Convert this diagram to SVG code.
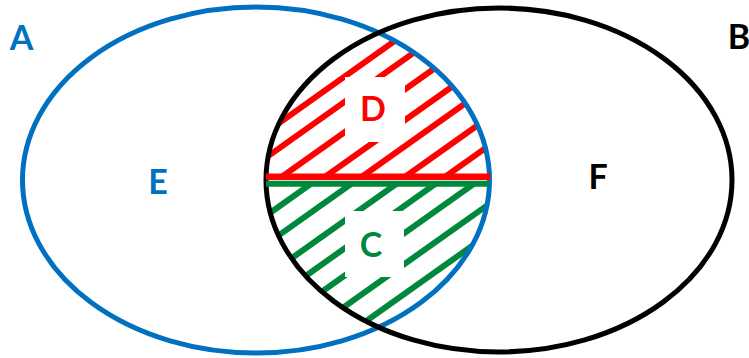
<svg xmlns="http://www.w3.org/2000/svg" width="749" height="358" viewBox="0 0 749 358">
  <style>
    .lbl { font-family: Lato, "Liberation Sans", Arial, sans-serif; font-weight: 700; font-size: 34px; text-anchor: middle; }
    .blue { fill: #0070C0; }
    .black { fill: #000000; }
    .red { fill: #FF0000; }
    .green { fill: #00883C; }
    .hr { stroke: #FF0000; stroke-width: 6; fill: none; }
    .hg { stroke: #00883C; stroke-width: 6; fill: none; }
    .gap { fill: #FFFFFF; stroke: none; }
  </style>
  <defs>
    <clipPath id="clipA"><ellipse cx="256" cy="180" rx="233.5" ry="173"/></clipPath>
    <clipPath id="clipB"><ellipse cx="499" cy="180" rx="233" ry="172"/></clipPath>
    <clipPath id="clipTop"><rect x="0" y="0" width="749" height="174"/></clipPath>
    <clipPath id="clipBottom"><rect x="0" y="186" width="749" height="172"/></clipPath>
  </defs>
  <rect width="749" height="358" fill="#FFFFFF"/>

  <g id="regionD">
    <g clip-path="url(#clipA)">
      <g clip-path="url(#clipB)">
        <g clip-path="url(#clipTop)">
          <g class="hr">
            <line x1="148.3" y1="215.9" x2="508.3" y2="-39.7"/>
            <line x1="183.9" y1="215.9" x2="543.9" y2="-39.7"/>
            <line x1="226.7" y1="215.9" x2="586.7" y2="-39.7"/>
            <line x1="270" y1="215.9" x2="630" y2="-39.7"/>
            <line x1="306.7" y1="215.9" x2="666.7" y2="-39.7"/>
            <line x1="350" y1="215.9" x2="710" y2="-39.7"/>
            <line x1="390" y1="215.9" x2="750" y2="-39.7"/>
          </g>
        </g>
      </g>
    </g>
    <rect class="gap" x="345" y="77" width="60" height="65"/>
    <text class="lbl red" x="373" y="120.5">D</text>
  </g>

  <g id="regionC">
    <g clip-path="url(#clipA)">
      <g clip-path="url(#clipB)">
        <g clip-path="url(#clipBottom)">
          <g class="hg">
            <line x1="206.5" y1="258" x2="406.5" y2="116"/>
            <line x1="246.9" y1="258" x2="446.9" y2="116"/>
            <line x1="292" y1="258" x2="492" y2="116"/>
            <line x1="231" y1="329" x2="531" y2="116"/>
            <line x1="269.4" y1="329" x2="569.4" y2="116"/>
            <line x1="313" y1="329" x2="613" y2="116"/>
            <line x1="355" y1="329" x2="655" y2="116"/>
          </g>
        </g>
      </g>
    </g>
    <rect class="gap" x="345" y="211" width="59" height="66"/>
    <text class="lbl green" x="371" y="257">C</text>
  </g>

  <g id="setA">
    <ellipse cx="256" cy="180" rx="233.5" ry="173" fill="none" stroke="#0070C0" stroke-width="5"/>
    <text class="lbl blue" x="21.5" y="50">A</text>
  </g>

  <g id="setB">
    <ellipse cx="499" cy="180" rx="233" ry="172" fill="none" stroke="#000000" stroke-width="5"/>
    <text class="lbl black" x="739" y="48.5">B</text>
  </g>

  <g id="regionE">
    <text class="lbl blue" x="158" y="193.5">E</text>
  </g>

  <g id="regionF">
    <text class="lbl black" x="598" y="188.5">F</text>
  </g>

  <g id="connectors">
    <line x1="266" y1="176.8" x2="490" y2="176.8" stroke="#FF0000" stroke-width="6.5"/>
    <line x1="266" y1="183.7" x2="489" y2="183.7" stroke="#00883C" stroke-width="6"/>
  </g>
</svg>
